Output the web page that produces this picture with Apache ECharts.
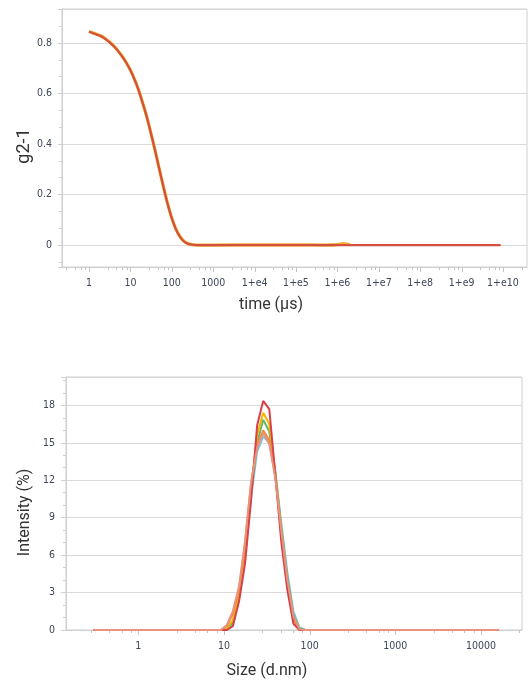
<!DOCTYPE html>
<html><head><meta charset="utf-8">
<script src="https://cdn.jsdelivr.net/npm/echarts@6/dist/echarts.min.js"></script>
<style>html,body{margin:0;padding:0;background:#fff}#c{width:529px;height:684px}</style>
</head><body><div id="c"></div><script>
// ---------------- data ----------------
// correlation function (time in µs, g2-1)
const corrTimes = [1, 1.26, 1.58, 2, 2.5, 3.16, 4, 5, 6.3, 8, 10, 12.6, 15.8, 20, 25, 31.6, 40, 50, 63, 79, 100, 126, 158, 200, 251, 316, 398, 1000, 1e4, 1e5, 1e6, 1e7, 1e8, 1e9, 8.8e9];
const corrRed    = [0.845, 0.839, 0.833, 0.826, 0.816, 0.803, 0.787, 0.769, 0.747, 0.721, 0.692, 0.655, 0.613, 0.560, 0.506, 0.440, 0.370, 0.300, 0.229, 0.164, 0.106, 0.062, 0.032, 0.013, 0.0046, 0.0012, 0, 0, 0, 0, 0, 0, 0, 0, 0];
const corrYellowTimes = [1, 1.26, 1.58, 2, 2.5, 3.16, 4, 5, 6.3, 8, 10, 12.6, 15.8, 20, 25, 31.6, 40, 50, 63, 79, 100, 126, 158, 200, 251, 316, 398, 1000, 1e4, 1e5, 5e5, 1e6, 1.4e6, 1.7e6, 2e6];
const corrYellow = [0.846, 0.840, 0.834, 0.827, 0.817, 0.804, 0.788, 0.770, 0.748, 0.722, 0.693, 0.656, 0.614, 0.561, 0.507, 0.441, 0.371, 0.301, 0.230, 0.165, 0.107, 0.063, 0.033, 0.014, 0.005, 0.0015, 0, 0, 0.001, 0.001, 0, 0.002, 0.006, 0.004, 0.001];
const timeTickLabels = ['1', '10', '100', '1000', '1+e4', '1+e5', '1+e6', '1+e7', '1+e8', '1+e9', '1+e10'];

// size distribution (size in d.nm, intensity %)
const sizeBins = [0.3, 9.2, 10.8, 12.7, 15.0, 17.6, 20.7, 24.4, 28.7, 33.8, 39.7, 46.8, 55.0, 64.7, 76.1, 89.6, 16000];
const intLightBlue = [0, 0, 0, 0.6, 2.5, 5.8, 10.6, 14.3, 15.5, 15.0, 12.7, 8.5, 4.6, 1.5, 0.2, 0, 0];
const intGreen     = [0, 0, 0, 0.6, 2.6, 6.0, 10.9, 15.0, 16.85, 15.9, 12.6, 8.2, 4.2, 1.2, 0.1, 0, 0];
const intYellow    = [0, 0, 0.1, 0.8, 2.9, 6.3, 11.3, 15.6, 17.4, 16.5, 12.6, 7.8, 3.8, 0.9, 0, 0, 0];
const intOrange    = [0, 0, 0.3, 1.3, 3.3, 6.9, 11.7, 14.8, 16.0, 15.2, 12.3, 7.7, 3.7, 0.9, 0, 0, 0];
const intRed       = [0, 0, 0, 0.3, 2.3, 5.3, 10.4, 16.4, 18.35, 17.7, 12.5, 7.0, 3.2, 0.5, 0, 0, 0];
const intSalmon    = [0, 0, 0.4, 1.5, 3.5, 7.1, 11.8, 14.6, 15.8, 14.9, 12.2, 7.9, 4.0, 1.1, 0.05, 0, 0];
const sizeTickLabels = ['1', '10', '100', '1000', '10000'];

// ---------------- chart ----------------
const LABEL_FONT = "'DejaVu Sans Condensed', 'DejaVu Sans', sans-serif";
const NAME_FONT = "Roboto, sans-serif";
const LABEL_COLOR = '#3c4658';
const AXIS_COLOR = '#cfcfcf';
const GRID_COLOR = '#dadada';

const T_XMIN = -0.652, T_XMAX = 10.58, T_YMIN = -0.087, T_YMAX = 0.935;
const S_XMIN = -0.844, S_XMAX = 4.479, S_YMIN = 0, S_YMAX = 20.27;

function pairs(xs, ys) { return xs.map((x, i) => [Math.log10(x), ys[i]]); }

// log-style axis ticks (major at decades, minor at the linear fifths of each decade)
function logTicks(min, max, yMin) {
  const out = [];
  const minorMult = [1, 2.8, 4.6, 6.4, 8.2];
  for (let d = Math.floor(min); d <= Math.ceil(max); d++) {
    minorMult.forEach((m, i) => {
      const v = d + Math.log10(m);
      if (v > min + 1e-9 && v < max - 1e-9) out.push([v, yMin, i === 0 ? 5 : 3]);
    });
  }
  return out;
}
function tickSeries(idx, ticks) {
  return {
    type: 'custom', xAxisIndex: idx, yAxisIndex: idx, clip: false, silent: true,
    animation: false, data: ticks, z: 1,
    encode: { x: 0, y: 1 },
    renderItem: (params, api) => {
      const p = api.coord([api.value(0), api.value(1)]);
      const x = Math.round(p[0]) + 0.5;
      const y = Math.round(p[1]);
      return { type: 'line', shape: { x1: x, y1: y, x2: x, y2: y + api.value(2) },
               style: { stroke: '#c4c4c4', lineWidth: 1 } };
    }
  };
}

const labelStyle = { fontFamily: LABEL_FONT, fontSize: 10.5, color: LABEL_COLOR };
const nameStyleBase = { fontFamily: NAME_FONT, fontSize: 16, color: '#333' };

function isMultiple(v, step) { return Math.abs(v / step - Math.round(v / step)) < 1e-6; }

const lineBase = { type: 'line', showSymbol: false, symbol: 'none', animation: false, silent: true };
const axisLineStyle = { show: true, onZero: false, lineStyle: { color: AXIS_COLOR } };

const option = {
  backgroundColor: '#fff',
  animation: false,
  grid: [
    { left: 62, top: 9, width: 465, height: 258, show: true, borderColor: AXIS_COLOR, borderWidth: 1, containLabel: false, outerBoundsMode: 'none' },
    { left: 66, top: 377, width: 456, height: 253, show: true, borderColor: AXIS_COLOR, borderWidth: 1, containLabel: false, outerBoundsMode: 'none' }
  ],
  xAxis: [
    {
      type: 'value', gridIndex: 0, min: T_XMIN, max: T_XMAX, splitNumber: 11,
      axisLine: axisLineStyle,
      axisTick: { show: false }, splitLine: { show: false },
      axisLabel: Object.assign({}, labelStyle, {
        margin: 11, showMinLabel: false, showMaxLabel: false,
        formatter: v => isMultiple(v, 1) ? (timeTickLabels[Math.round(v)] || '') : ''
      }),
      name: 'time (µs)', nameLocation: 'middle', nameGap: 30, nameMoveOverlap: false,
      nameTextStyle: Object.assign({}, nameStyleBase, { padding: [0, 47, 0, 0] })
    },
    {
      type: 'value', gridIndex: 1, min: S_XMIN, max: S_XMAX, splitNumber: 5,
      axisLine: axisLineStyle,
      axisTick: { show: false }, splitLine: { show: false },
      axisLabel: Object.assign({}, labelStyle, {
        margin: 11, showMinLabel: false, showMaxLabel: false,
        formatter: v => isMultiple(v, 1) ? (sizeTickLabels[Math.round(v)] || '') : ''
      }),
      name: 'Size (d.nm)', nameLocation: 'middle', nameGap: 33, nameMoveOverlap: false,
      nameTextStyle: Object.assign({}, nameStyleBase, { padding: [0, 54, 0, 0] })
    }
  ],
  yAxis: [
    {
      type: 'value', gridIndex: 0, min: T_YMIN, max: T_YMAX, splitNumber: 5,
      axisLine: axisLineStyle,
      axisTick: { show: true, length: 4, lineStyle: { color: AXIS_COLOR } },
      minorTick: { show: true, splitNumber: 3, length: 3, lineStyle: { color: AXIS_COLOR } },
      splitLine: { show: true, lineStyle: { color: GRID_COLOR, width: 1 } },
      axisLabel: Object.assign({}, labelStyle, {
        margin: 10, showMinLabel: false, showMaxLabel: false,
        formatter: v => isMultiple(v, 0.2) ? String(Math.round(v * 10) / 10) : ''
      }),
      name: 'g2-1', nameLocation: 'middle', nameGap: 29, nameMoveOverlap: false,
      nameTextStyle: Object.assign({}, nameStyleBase, { fontSize: 18, padding: [0, 16, 0, 0] })
    },
    {
      type: 'value', gridIndex: 1, min: S_YMIN, max: S_YMAX, interval: 3,
      axisLine: axisLineStyle,
      axisTick: { show: true, length: 5, lineStyle: { color: AXIS_COLOR } },
      minorTick: { show: true, splitNumber: 3, length: 3, lineStyle: { color: AXIS_COLOR } },
      splitLine: { show: true, lineStyle: { color: GRID_COLOR, width: 1 } },
      axisLabel: Object.assign({}, labelStyle, {
        margin: 11, showMaxLabel: false,
        formatter: v => isMultiple(v, 3) ? String(Math.round(v)) : ''
      }),
      name: 'Intensity (%)', nameLocation: 'middle', nameGap: 33, nameMoveOverlap: false,
      nameTextStyle: Object.assign({}, nameStyleBase, { padding: [0, 18, 0, 0] })
    }
  ],
  series: [
    tickSeries(0, logTicks(T_XMIN, T_XMAX, T_YMIN)),
    tickSeries(1, logTicks(S_XMIN, S_XMAX, S_YMIN)),
    Object.assign({}, lineBase, { name: 'corr-yellow', xAxisIndex: 0, yAxisIndex: 0, smooth: 0.3,
      data: pairs(corrYellowTimes, corrYellow), lineStyle: { color: '#f0b030', width: 3.2 } }),
    Object.assign({}, lineBase, { name: 'corr-red', xAxisIndex: 0, yAxisIndex: 0, smooth: 0.3,
      data: pairs(corrTimes, corrRed), lineStyle: { color: '#d4503c', width: 2.2 } }),
    Object.assign({}, lineBase, { name: 'lightblue', xAxisIndex: 1, yAxisIndex: 1,
      data: pairs(sizeBins, intLightBlue), lineStyle: { color: '#7ec4e0', width: 2 } }),
    Object.assign({}, lineBase, { name: 'green', xAxisIndex: 1, yAxisIndex: 1,
      data: pairs(sizeBins, intGreen), lineStyle: { color: '#62b866', width: 2 } }),
    Object.assign({}, lineBase, { name: 'yellow', xAxisIndex: 1, yAxisIndex: 1,
      data: pairs(sizeBins, intYellow), lineStyle: { color: '#f4b400', width: 2 } }),
    Object.assign({}, lineBase, { name: 'orange', xAxisIndex: 1, yAxisIndex: 1,
      data: pairs(sizeBins, intOrange), lineStyle: { color: '#ef8a3c', width: 2 } }),
    Object.assign({}, lineBase, { name: 'red', xAxisIndex: 1, yAxisIndex: 1,
      data: pairs(sizeBins, intRed), lineStyle: { color: '#d6404a', width: 2 } }),
    Object.assign({}, lineBase, { name: 'salmon', xAxisIndex: 1, yAxisIndex: 1,
      data: pairs(sizeBins, intSalmon), lineStyle: { color: '#e8927f', width: 2 } })
  ]
};

const chart = echarts.init(document.getElementById('c'), null, { renderer: 'canvas' });
chart.setOption(option);
</script></body></html>
